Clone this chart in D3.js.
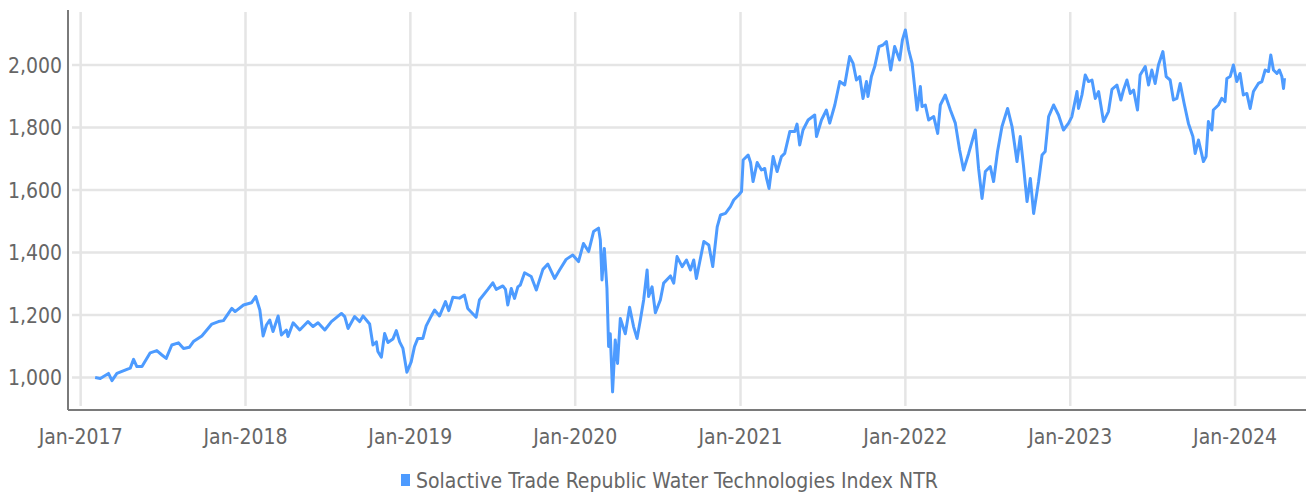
<!DOCTYPE html>
<html>
<head>
<meta charset="utf-8">
<script src="https://cdn.jsdelivr.net/npm/d3@7"></script>
<style>
  html, body { margin: 0; padding: 0; background: #fff; }
  #chart { width: 1306px; height: 496px; }
  text { font-family: "Liberation Sans Narrow", "DejaVu Sans Condensed", "Roboto", sans-serif; }
</style>
</head>
<body>
<div id="chart"></div>
<script>
/* ===== Solactive Water Technologies line chart ===== */

// x positions as decimal years
const years = [
  2017.088, 2017.119, 2017.169, 2017.190, 2017.220, 2017.281, 2017.301, 2017.321, 2017.341, 2017.372,
  2017.422, 2017.462, 2017.493, 2017.519, 2017.553, 2017.593, 2017.624, 2017.660, 2017.684, 2017.735,
  2017.796, 2017.836, 2017.866, 2017.917, 2017.937, 2017.988,
  2018.036, 2018.062, 2018.087, 2018.107, 2018.127, 2018.147, 2018.167, 2018.198, 2018.218, 2018.248,
  2018.258, 2018.289, 2018.329, 2018.379, 2018.410, 2018.440, 2018.481, 2018.521, 2018.582, 2018.602,
  2018.622, 2018.662, 2018.693, 2018.713, 2018.753, 2018.773, 2018.794, 2018.803, 2018.824, 2018.844,
  2018.864, 2018.894, 2018.915, 2018.935, 2018.955, 2018.979,
  2019.005, 2019.025, 2019.045, 2019.076, 2019.096, 2019.127, 2019.147, 2019.177, 2019.213, 2019.233,
  2019.258, 2019.298, 2019.328, 2019.348, 2019.399, 2019.419, 2019.470, 2019.500, 2019.521, 2019.561,
  2019.577, 2019.591, 2019.612, 2019.632, 2019.652, 2019.667, 2019.693, 2019.733, 2019.764, 2019.804,
  2019.834, 2019.875, 2019.905, 2019.945, 2019.985,
  2020.020, 2020.050, 2020.081, 2020.111, 2020.141, 2020.152, 2020.162, 2020.176, 2020.192, 2020.202,
  2020.212, 2020.226, 2020.242, 2020.256, 2020.273, 2020.303, 2020.329, 2020.353, 2020.374, 2020.394,
  2020.414, 2020.435, 2020.444, 2020.465, 2020.485, 2020.515, 2020.535, 2020.576, 2020.596, 2020.616,
  2020.647, 2020.673, 2020.697, 2020.717, 2020.733, 2020.778, 2020.808, 2020.832, 2020.859, 2020.879,
  2020.909, 2020.939, 2020.959, 2020.989,
  2021.006, 2021.016, 2021.046, 2021.061, 2021.076, 2021.101, 2021.127, 2021.147, 2021.158, 2021.173,
  2021.198, 2021.222, 2021.248, 2021.268, 2021.299, 2021.329, 2021.343, 2021.359, 2021.379, 2021.410,
  2021.450, 2021.461, 2021.491, 2021.521, 2021.541, 2021.572, 2021.602, 2021.632, 2021.662, 2021.683,
  2021.703, 2021.723, 2021.743, 2021.764, 2021.773, 2021.794, 2021.814, 2021.840, 2021.864, 2021.885,
  2021.911, 2021.935, 2021.965, 2021.982,
  2022.000, 2022.020, 2022.041, 2022.071, 2022.091, 2022.101, 2022.121, 2022.141, 2022.172, 2022.196,
  2022.212, 2022.242, 2022.273, 2022.303, 2022.329, 2022.353, 2022.384, 2022.424, 2022.444, 2022.465,
  2022.485, 2022.515, 2022.535, 2022.559, 2022.586, 2022.620, 2022.647, 2022.677, 2022.697, 2022.717,
  2022.738, 2022.758, 2022.778, 2022.808, 2022.829, 2022.848, 2022.869, 2022.899, 2022.929, 2022.959,
  2022.990,
  2023.010, 2023.041, 2023.050, 2023.071, 2023.091, 2023.111, 2023.132, 2023.152, 2023.172, 2023.202,
  2023.232, 2023.253, 2023.283, 2023.307, 2023.323, 2023.344, 2023.364, 2023.384, 2023.408, 2023.424,
  2023.455, 2023.475, 2023.495, 2023.515, 2023.535, 2023.562, 2023.582, 2023.606, 2023.626, 2023.647,
  2023.667, 2023.691, 2023.717, 2023.744, 2023.758, 2023.778, 2023.808, 2023.824, 2023.838, 2023.859,
  2023.868, 2023.899, 2023.919, 2023.939, 2023.950, 2023.970, 2023.990,
  2024.010, 2024.030, 2024.050, 2024.071, 2024.091, 2024.111, 2024.141, 2024.162, 2024.182, 2024.202,
  2024.216, 2024.232, 2024.253, 2024.268, 2024.283, 2024.293, 2024.299
];

const values = [
  1000, 997, 1013, 990, 1013, 1026, 1030, 1058, 1035, 1035,
  1079, 1086, 1072, 1061, 1104, 1111, 1093, 1097, 1115, 1133,
  1171, 1179, 1182, 1221, 1211, 1232,
  1239, 1259, 1216, 1133, 1168, 1184, 1147, 1197, 1136, 1152,
  1131, 1175, 1152, 1179, 1163, 1175, 1152, 1179, 1205, 1195,
  1157, 1195, 1179, 1197, 1171, 1104, 1114, 1083, 1065, 1141,
  1112, 1123, 1150, 1114, 1093, 1017,
  1050, 1099, 1125, 1125, 1165, 1197, 1216, 1197, 1243, 1214,
  1257, 1254, 1264, 1221, 1193, 1248, 1282, 1303, 1282, 1293,
  1282, 1232, 1285, 1253, 1290, 1296, 1335, 1323, 1280, 1346,
  1363, 1317, 1344, 1378, 1392,
  1371, 1429, 1403, 1467, 1478, 1440, 1312, 1413, 1285, 1099,
  1140, 954, 1120, 1045, 1189, 1140, 1225, 1163, 1125, 1184,
  1248, 1344, 1259, 1290, 1207, 1248, 1302, 1325, 1302, 1387,
  1355, 1376, 1344, 1376, 1317, 1435, 1424, 1355, 1482, 1520,
  1525, 1547, 1568, 1584,
  1595, 1696, 1712, 1688, 1627, 1688, 1664, 1669, 1637, 1605,
  1707, 1659, 1707, 1717, 1787, 1787, 1811, 1744, 1792, 1824,
  1840, 1771, 1824, 1856, 1814, 1872, 1947, 1936, 2027, 2005,
  1952, 1963, 1893, 1947, 1899, 1963, 1995, 2059, 2064, 2075,
  1984, 2059, 2016, 2080,
  2112, 2048, 2005, 1856, 1931, 1867, 1872, 1824, 1835, 1781,
  1872, 1904, 1856, 1814, 1728, 1664, 1717, 1792, 1669, 1573,
  1659, 1675, 1627, 1723, 1803, 1861, 1803, 1691, 1771, 1675,
  1563, 1637, 1525, 1627, 1712, 1723, 1835, 1872, 1840, 1792,
  1814,
  1835, 1915, 1861, 1904, 1968, 1947, 1952, 1893, 1915, 1819,
  1851, 1922, 1936, 1888, 1920, 1952, 1909, 1920, 1856, 1968,
  1995, 1936, 1984, 1941, 2000, 2043, 1963, 1952, 1888, 1893,
  1941, 1877, 1813, 1771, 1717, 1760, 1691, 1707, 1819, 1792,
  1856, 1872, 1893, 1883, 1957, 1963, 2000,
  1947, 1973, 1904, 1909, 1861, 1915, 1941, 1947, 1984, 1979,
  2032, 1984, 1973, 1984, 1963, 1925, 1958
];

const seriesName = 'Solactive Trade Republic Water Technologies Index NTR';
const xTickYears = [2017, 2018, 2019, 2020, 2021, 2022, 2023, 2024];
const yTicks = [1000, 1200, 1400, 1600, 1800, 2000];

function yearToDate(y) {
  const yr = Math.floor(y);
  const start = new Date(yr, 0, 1);
  const end = new Date(yr + 1, 0, 1);
  return new Date(start.getTime() + (y - yr) * (end - start));
}

function initChart() {
  const container = document.getElementById('chart');
  const fullWidth = 1306;
  const fullHeight = 496;
  const margin = { top: 10, right: 0, bottom: 86, left: 68 };
  const w = fullWidth - margin.left - margin.right;
  const h = fullHeight - margin.top - margin.bottom;
  const lineColor = '#4d9bff';
  const labelColor = '#666666';

  const data = years.map((y, i) => ({ date: yearToDate(y), value: values[i] }));

  const svg = d3.select(container)
    .append('svg')
    .attr('width', fullWidth)
    .attr('height', fullHeight);

  const g = svg.append('g')
    .attr('transform', `translate(${margin.left},${margin.top})`);

  const x = d3.scaleTime()
    .domain([new Date(2016, 11, 4), new Date(2024, 5, 6)])
    .range([0, w]);

  const y = d3.scaleLinear()
    .domain([896, 2176])
    .range([h, 0]);

  const xTicks = xTickYears.map(yr => new Date(yr, 0, 1));

  // Horizontal grid
  g.selectAll('.hgrid')
    .data(yTicks)
    .join('line')
    .attr('x1', 4).attr('x2', w)
    .attr('y1', d => y(d)).attr('y2', d => y(d))
    .attr('stroke', '#e5e5e5')
    .attr('stroke-width', 2.5);

  // Vertical grid
  g.selectAll('.vgrid')
    .data(xTicks)
    .join('line')
    .attr('x1', d => x(d)).attr('x2', d => x(d))
    .attr('y1', 2).attr('y2', h - 4)
    .attr('stroke', '#e5e5e5')
    .attr('stroke-width', 2.5);

  // Axis lines
  g.append('line')
    .attr('x1', 0).attr('x2', 0)
    .attr('y1', 0).attr('y2', h)
    .attr('stroke', '#7a7a7a')
    .attr('stroke-width', 2);

  g.append('line')
    .attr('x1', 0).attr('x2', w)
    .attr('y1', h).attr('y2', h)
    .attr('stroke', '#7a7a7a')
    .attr('stroke-width', 2);

  // Y labels
  g.selectAll('.y-label')
    .data(yTicks)
    .join('text')
    .attr('x', -6).attr('y', d => y(d))
    .attr('dy', '0.36em')
    .attr('text-anchor', 'end')
    .attr('fill', labelColor)
    .attr('font-size', '21px')
    .text(d => d3.format(',')(d));

  // X labels
  g.selectAll('.x-label')
    .data(xTicks)
    .join('text')
    .attr('x', d => x(d))
    .attr('y', h + 34)
    .attr('text-anchor', 'middle')
    .attr('fill', labelColor)
    .attr('font-size', '21px')
    .text(d => d3.timeFormat('Jan-%Y')(d));

  // Line
  const line = d3.line()
    .x(d => x(d.date))
    .y(d => y(d.value));

  g.append('path')
    .datum(data)
    .attr('fill', 'none')
    .attr('stroke', lineColor)
    .attr('stroke-width', 3)
    .attr('stroke-linejoin', 'round')
    .attr('d', line);

  // Legend
  const legend = svg.append('g')
    .attr('transform', 'translate(401,480)');

  legend.append('rect')
    .attr('x', 0).attr('y', -6)
    .attr('width', 9).attr('height', 12)
    .attr('fill', lineColor);

  legend.append('text')
    .attr('x', 15).attr('y', 0)
    .attr('dy', '0.36em')
    .attr('fill', labelColor)
    .attr('font-size', '21px')
    .text(seriesName);
}

initChart();
</script>
</body>
</html>
